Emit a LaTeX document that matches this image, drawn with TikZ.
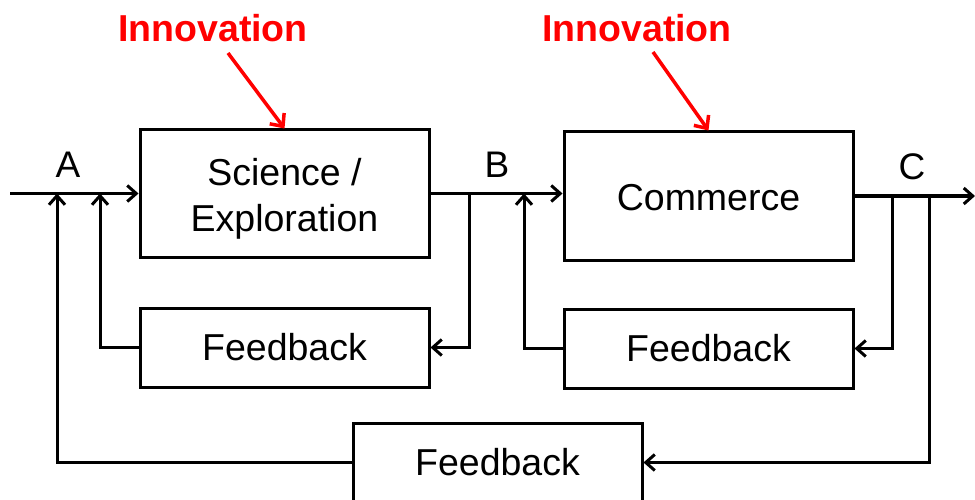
\documentclass[tikz,border=0pt]{standalone}
\usepackage{fontspec}
\setmainfont{Liberation Sans}
\usetikzlibrary{arrows.meta}
\begin{document}
\begin{tikzpicture}[x=1pt,y=-1pt,
  box/.style={draw=black,line width=3pt,minimum width=289pt,inner sep=0pt,align=center,
    font=\fontsize{37.5}{46}\selectfont},
  txt/.style={inner sep=0pt,align=center,font=\fontsize{37.5}{46}\selectfont},
  lbl/.style={font=\fontsize{37}{42}\selectfont,inner sep=0pt},
  inno/.style={font=\fontsize{37.5}{42}\selectfont\bfseries,text=red,inner sep=0pt},
  arr/.style={line width=3pt,-{Straight Barb[length=9pt,width=16pt,line width=3pt]}},
  redarr/.style={draw=red,line width=3.5pt,-{Straight Barb[length=10pt,width=18pt,line width=3.5pt]}}]
\useasboundingbox (0,0) rectangle (975,500);
\begin{scope}
\clip (0,0) rectangle (975,500);
\node[box,minimum height=127pt] (sci) at (284.5,193.5) {};
\node[txt] (scitext) at ([yshift=-5pt]sci.center) {Science /\\Exploration};
\node[box,minimum height=128pt] (com) at (708.5,196) {};
\node[txt] (comtext) at ([yshift=-2pt]com.center) {Commerce};
\node[box,minimum height=79pt] (fb1) at (284.5,347.5) {Feedback};
\node[box,minimum height=79pt] (fb2) at (708.5,348.5) {Feedback};
\node[box,minimum height=79pt] (fb3) at (497.5,462.5) {Feedback};

\node[lbl] (A) at (68,165) {A};
\node[lbl] (B) at (497,165) {B};
\node[lbl] (C) at (912,167) {C};

\node[inno] (in1) at (213,28) {Innovation};
\node[inno] (in2) at (637,28) {Innovation};

\coordinate (start) at (10,193.5);
\coordinate (aOuter) at (57,193.5);
\coordinate (aInner) at (100,193.5);
\coordinate (bDown) at (469,193.5);
\coordinate (bUp) at (524,193.5);
\coordinate (cDown1) at (892,196);
\coordinate (cDown2) at (929,196);
\coordinate (out) at (975,196);
\coordinate (r1) at (228,53);
\coordinate (r2) at (653,52);

\draw[arr] (start) -- (sci.west);
\draw[arr] (sci.east) -- (sci.east -| com.west);
\draw[arr] (bDown) |- (fb1.east);
\draw[arr] (fb1.west) -| (aInner);
\draw[arr] (fb2.west) -| (bUp);
\draw[arr] (com.east) -- (out);
\draw[arr] (cDown1) |- (fb2.east);
\draw[arr] (cDown2) |- (fb3.east);
\draw[arr] (fb3.west) -| (aOuter);

\draw[redarr] (r1) -- (sci.north);
\draw[redarr] (r2) -- (com.north);
\end{scope}
\end{tikzpicture}
\end{document}
